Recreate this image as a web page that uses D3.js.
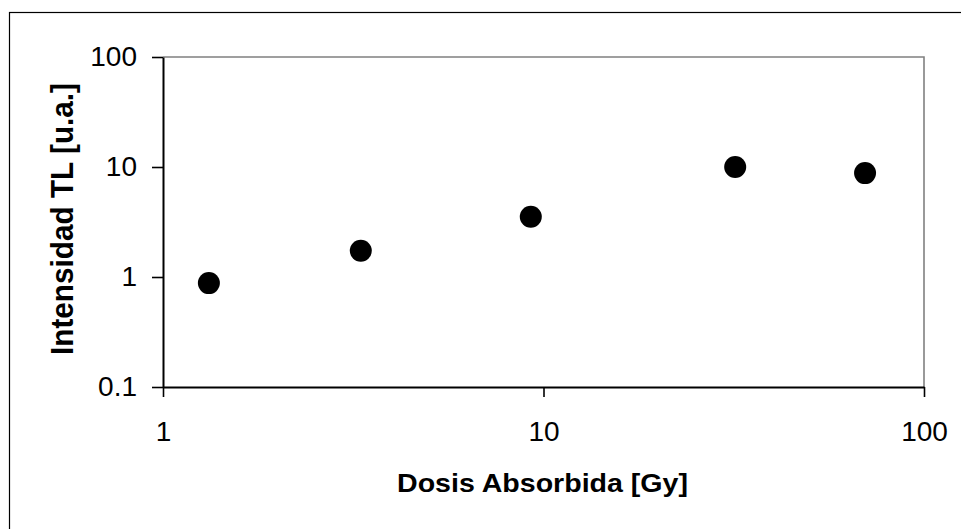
<!DOCTYPE html>
<html>
<head>
<meta charset="utf-8">
<script src="https://cdn.jsdelivr.net/npm/d3@7"></script>
<style>
  html, body { margin: 0; padding: 0; background: #fff; }
  svg { display: block; font-family: "Liberation Sans", Arial, sans-serif; }
</style>
</head>
<body>
<svg id="chart" width="961" height="529"></svg>
<script>
// Data
const dose = [1.32, 3.31, 9.26, 31.9, 70];
const intensity = [0.88, 1.73, 3.53, 10.0, 8.8];
const xTicks = [1, 10, 100];
const yTicks = [0.1, 1, 10, 100];
const xTitle = "Dosis Absorbida [Gy]";
const yTitle = "Intensidad TL [u.a.]";

const svg = d3.select("#chart");

// Plot area
const plotLeft = 163, plotRight = 924, plotTop = 57, plotBottom = 387;

const x = d3.scaleLog().domain([1, 100]).range([plotLeft, plotRight]);
const y = d3.scaleLog().domain([0.1, 100]).range([plotBottom, plotTop]);

// Outer chart border (cut by the window on the right/bottom)
svg.append("rect")
    .attr("x", 9.5).attr("y", 12.5)
    .attr("width", 1000).attr("height", 600)
    .attr("fill", "none")
    .attr("stroke", "#000")
    .attr("stroke-width", 1.2);

// Plot frame: gray top and right edges
svg.append("path")
    .attr("d", `M${plotLeft},${plotTop}H${plotRight}V${plotBottom}`)
    .attr("fill", "none")
    .attr("stroke", "#808080")
    .attr("stroke-width", 1.6);

// Axes
const xAxis = svg.append("g")
    .attr("transform", `translate(0,${plotBottom})`)
    .call(d3.axisBottom(x).tickValues(xTicks).tickFormat(d3.format("~g")).tickSizeOuter(0).tickSizeInner(10).tickPadding(24));

const yAxis = svg.append("g")
    .attr("transform", `translate(${plotLeft},0)`)
    .call(d3.axisLeft(y).tickValues(yTicks).tickFormat(d3.format("~g")).tickSizeOuter(0).tickSizeInner(11).tickPadding(15));

[xAxis, yAxis].forEach(g => {
    g.select(".domain").attr("stroke", "#000").attr("stroke-width", 2);
    g.selectAll(".tick line").attr("stroke", "#000").attr("stroke-width", 1.6);
    g.selectAll(".tick text")
        .attr("fill", "#000")
        .style("font-size", "28px")
        .style("font-family", "'Liberation Sans', Arial, sans-serif");
});

// Points
svg.append("g")
    .selectAll("circle")
    .data(dose.map((d, i) => [d, intensity[i]]))
    .join("circle")
    .attr("cx", d => x(d[0]))
    .attr("cy", d => y(d[1]))
    .attr("r", 11)
    .attr("fill", "#000");

// Axis titles
svg.append("text")
    .attr("x", 397)
    .attr("y", 492)
    .attr("textLength", 291)
    .attr("lengthAdjust", "spacingAndGlyphs")
    .style("font-size", "26px")
    .style("font-weight", "bold")
    .text(xTitle);

svg.append("text")
    .attr("transform", "translate(73,355) rotate(-90)")
    .attr("textLength", 272)
    .attr("lengthAdjust", "spacingAndGlyphs")
    .style("font-size", "31px")
    .style("font-weight", "bold")
    .text(yTitle);
</script>
</body>
</html>
